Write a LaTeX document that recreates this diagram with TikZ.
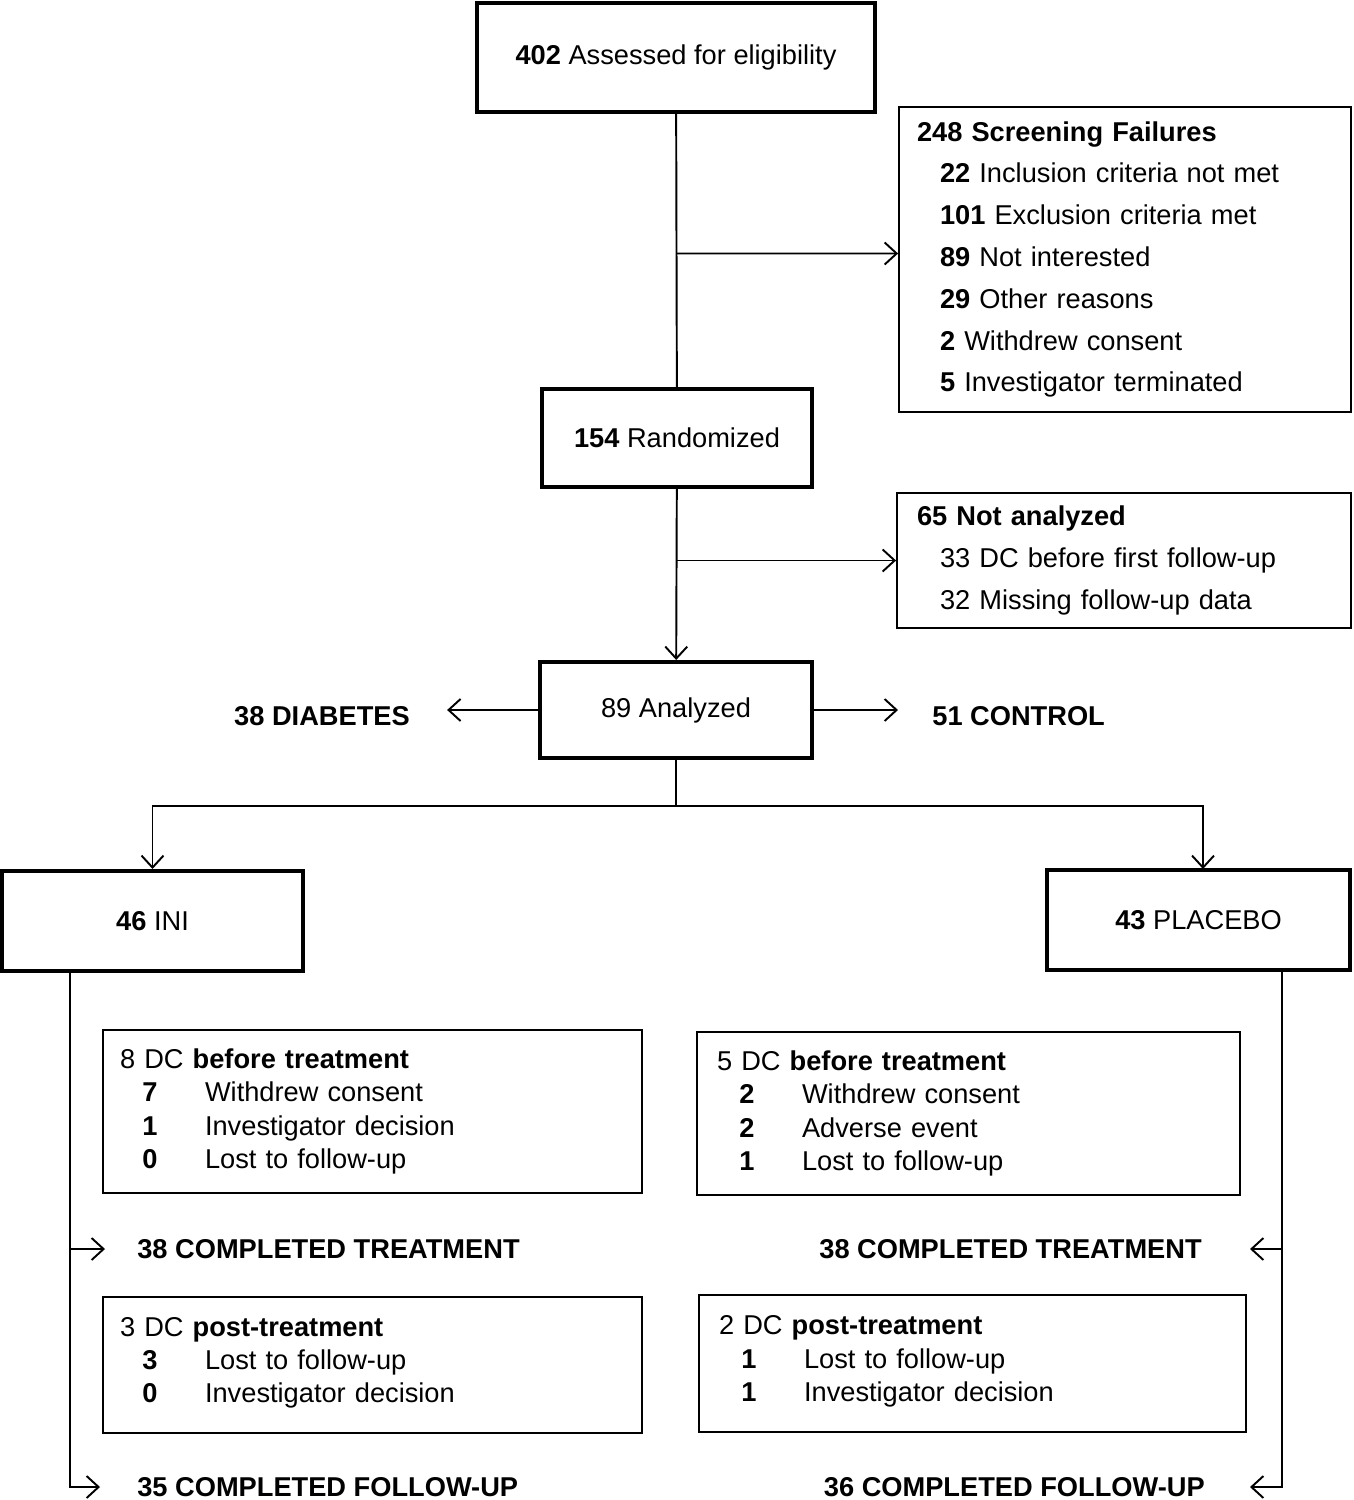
\documentclass[tikz,border=0pt]{standalone}
\usepackage{fontspec}
\setmainfont{Liberation Sans}
\usetikzlibrary{arrows.meta}
\tikzset{
  thickbox/.style={draw, line width=2.3pt, inner sep=0pt},
  thinbox/.style={draw, line width=1.1pt, align=left, inner ysep=0pt},
  conn/.style={line width=1.1pt},
  arr/.style={conn, -{Straight Barb[length=2.4mm,width=4.4mm]}},
  lbl/.style={inner sep=0pt, font=\fontsize{15.5}{19}\selectfont\bfseries},
}
\newcommand{\dcrow}[2]{\hspace*{0.4cm}\makebox[0.4cm]{\textbf{#1}}\hspace*{0.9cm}#2}
\newcommand{\scrrow}[2]{\hspace*{0.46cm}\textbf{#1} #2}
\begin{document}
\begin{tikzpicture}[x=0.02cm, y=-0.02cm, font=\fontsize{15.5}{19}\selectfont]
  \useasboundingbox (0,0) rectangle (1353,1500);
  \node[thickbox, minimum width=7.96cm, minimum height=2.18cm] (assess) at (676,57.5) {\textbf{402} Assessed for eligibility};
  \node[thinbox, minimum height=6.1cm, text width=8.32cm, inner xsep=0.36cm, font=\fontsize{15.5}{23.8}\selectfont] (screen) at (1125,259.5)
    {\textbf{248 Screening Failures}\\ \scrrow{22}{Inclusion criteria not met}\\ \scrrow{101}{Exclusion criteria met}\\
     \scrrow{89}{Not interested}\\ \scrrow{29}{Other reasons}\\ \scrrow{2}{Withdrew consent}\\ \scrrow{5}{Investigator terminated}};
  \node[thickbox, minimum width=5.4cm, minimum height=1.96cm] (rand) at (677,438) {\textbf{154} Randomized};
  \node[thinbox, minimum height=2.7cm, text width=8.28cm, inner xsep=0.4cm, font=\fontsize{15.5}{23.8}\selectfont] (notan) at (1124,560.5)
    {\textbf{65 Not analyzed}\\ \hspace*{0.46cm}33 DC before first follow-up\\ \hspace*{0.46cm}32 Missing follow-up data};
  \node[thickbox, minimum width=5.44cm, minimum height=1.92cm] (anal) at (676,710) {89 Analyzed};
  \node[lbl] (diab) at (322,716) {38 DIABETES};
  \node[lbl, anchor=west] (ctrl) at (932,716) {51 CONTROL};
  \node[thickbox, minimum width=6.02cm, minimum height=2cm] (ini) at (152.5,921) {\textbf{46} INI};
  \node[thickbox, minimum width=6.06cm, minimum height=2cm] (plac) at (1198.5,920) {\textbf{43} PLACEBO};
  \node[thinbox, minimum height=3.26cm, text width=10.1cm, inner xsep=0.34cm] (bleft) at (372.5,1111.5)
    {8 DC \textbf{before treatment}\\ \dcrow{7}{Withdrew consent}\\ \dcrow{1}{Investigator decision}\\ \dcrow{0}{Lost to follow-up}};
  \node[thinbox, minimum height=3.26cm, text width=10.06cm, inner xsep=0.4cm] (bright) at (968.5,1113.5)
    {5 DC \textbf{before treatment}\\ \dcrow{2}{Withdrew consent}\\ \dcrow{2}{Adverse event}\\ \dcrow{1}{Lost to follow-up}};
  \node[lbl, anchor=west] (ltreat) at (137,1249) {38 COMPLETED TREATMENT};
  \node[lbl, anchor=east] (rtreat) at (1202,1249) {38 COMPLETED TREATMENT};
  \node[thinbox, minimum height=2.72cm, text width=10.1cm, inner xsep=0.34cm] (pleft) at (372.5,1365)
    {3 DC \textbf{post-treatment}\\ \dcrow{3}{Lost to follow-up}\\ \dcrow{0}{Investigator decision}\\[-0.47cm]\mbox{}};
  \node[thinbox, minimum height=2.74cm, text width=10.14cm, inner xsep=0.4cm] (pright) at (972.5,1363.5)
    {2 DC \textbf{post-treatment}\\ \dcrow{1}{Lost to follow-up}\\ \dcrow{1}{Investigator decision}\\[-0.47cm]\mbox{}};
  \node[lbl, anchor=west] (lfollow) at (137,1487) {35 COMPLETED FOLLOW-UP};
  \node[lbl, anchor=east] (rfollow) at (1205,1487) {36 COMPLETED FOLLOW-UP};
  \coordinate (lfork) at (70,971);
  \coordinate (rfork) at (1282,970);
  \draw[conn] (assess) -- (rand);
  \draw[arr] (assess.south |- screen.west) ++(0,-6) -- ([yshift=0.12cm]screen.west);
  \draw[arr] (rand) -- (anal);
  \draw[arr] (rand.south |- notan.west) -- (notan.west);
  \draw[arr, shorten >=0.74cm] (anal.west) -- (anal.west -| diab.east);
  \draw[arr, shorten >=0.68cm] (anal.east) -- (anal.east -| ctrl.west);
  \draw[arr] (anal.south) -- ++(0,46) -| (ini.north);
  \draw[arr] (anal.south) -- ++(0,46) -| (1203,869);
  \draw[arr, shorten >=0.64cm] (lfork |- ltreat) -- (ltreat.west);
  \draw[arr, shorten >=0.74cm] (lfork) |- (lfollow.west);
  \draw[arr, shorten >=0.96cm] (rfork |- rtreat) -- (rtreat.east);
  \draw[arr, shorten >=0.9cm] (rfork) |- (rfollow.east);
\end{tikzpicture}
\end{document}
